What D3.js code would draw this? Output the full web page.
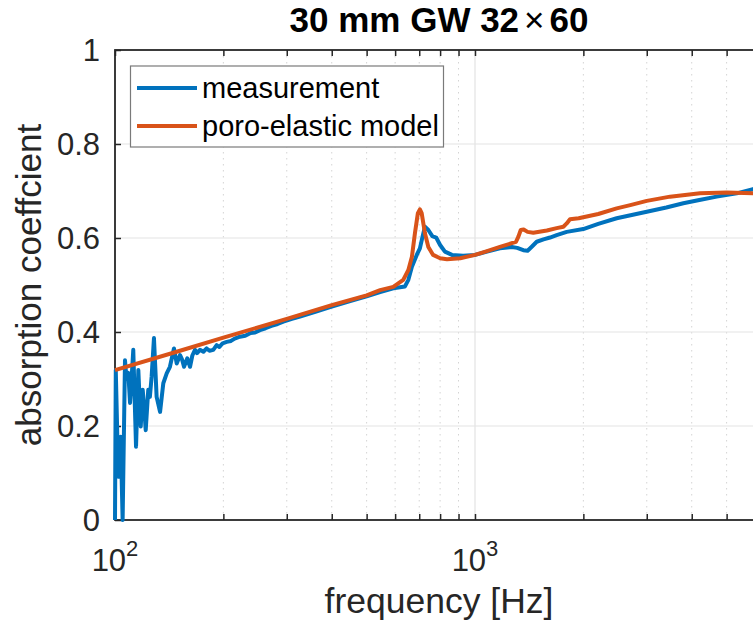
<!DOCTYPE html>
<html><head><meta charset="utf-8">
<script src="https://cdn.jsdelivr.net/npm/d3@7"></script>
<style>
body{margin:0;background:#fff}
svg{display:block}
text{font-family:"Liberation Sans",Arial,Helvetica,sans-serif;fill:#262626}
</style>
</head><body>
<svg id="chart" width="753" height="624"></svg>
<script>
// ---------- data ----------
const titleParts = ["30 mm GW 32", "×", "60"];
const xLabel = "frequency [Hz]";
const yLabel = "absorption coeffcient";
const seriesNames = ["measurement", "poro-elastic model"];
const seriesColors = ["#0072BD", "#D95319"];

const measFreq = [100,100.5,102.1,103.7,105.0,106.6,107.6,108.9,110.1,111.2,112.4,114.4,116.1,117.9,119.4,120.5,121.7,123.7,125.0,126.4,128.3,129.3,130.5,133.4,136.2,139.2,142.1,145.8,148.4,151.6,153.5,155.5,158.8,161.6,164,166.8,169,172.2,176,179.7,183,187.5,191.6,195,199,204.3,210,215,222.4,230,238,245,252.8,262,272,283,293.5,310,326.5,360,400,450,500,545,593,639,653,668,689,703,715,726,742,761,780,800,825,863,927,1000,1080,1173,1265,1310,1362,1400,1440,1484,1550,1616,1686,1798,1999,2200,2475,3000,3400,3790,4200,4693,5333,5918,6310];
const measVal = [0.0,0.319,0.092,0.177,0.0,0.340,0.300,0.313,0.249,0.300,0.362,0.156,0.319,0.199,0.277,0.240,0.191,0.277,0.262,0.305,0.387,0.330,0.262,0.230,0.291,0.312,0.326,0.365,0.333,0.351,0.342,0.326,0.344,0.326,0.350,0.362,0.355,0.362,0.358,0.365,0.360,0.362,0.372,0.368,0.376,0.379,0.381,0.386,0.390,0.392,0.398,0.399,0.404,0.408,0.413,0.417,0.422,0.428,0.433,0.443,0.454,0.466,0.476,0.485,0.493,0.497,0.511,0.539,0.564,0.578,0.603,0.624,0.617,0.604,0.601,0.585,0.571,0.564,0.562,0.564,0.571,0.578,0.581,0.579,0.574,0.573,0.582,0.592,0.597,0.601,0.606,0.613,0.619,0.630,0.642,0.656,0.665,0.674,0.681,0.688,0.695,0.704,0.708];

const modelFreq = [100,150,200,300,400,500,545,593,632,653,668,681,694,703,711,726,742,765,800,836,910,1000,1080,1173,1265,1300,1320,1340,1365,1400,1452,1584,1686,1760,1798,1836,1940,2200,2475,2700,3000,3482,4217,5003,5918,6310];
const modelVal = [0.319,0.359,0.388,0.428,0.457,0.478,0.489,0.496,0.511,0.532,0.560,0.610,0.653,0.661,0.653,0.610,0.581,0.564,0.557,0.555,0.557,0.564,0.572,0.581,0.589,0.592,0.603,0.617,0.618,0.613,0.611,0.616,0.621,0.624,0.631,0.640,0.642,0.651,0.663,0.670,0.679,0.688,0.695,0.697,0.695,0.694];

const xDomain = [100, 6310];
const yDomain = [0, 1];
const xMajorTicks = [100, 1000];
const xMajorBase = ["10", "10"];
const xMajorExp = ["2", "3"];
const xMinorTicks = [200,300,400,500,600,700,800,900,2000,3000,4000,5000,6000];
const yTicks = [0, 0.2, 0.4, 0.6, 0.8, 1];
const yTickLabels = ["0", "0.2", "0.4", "0.6", "0.8", "1"];

// ---------- layout ----------
const P = {left: 115, top: 50, right: 763, bottom: 520};
const svg = d3.select("#chart");
const x = d3.scaleLog().domain(xDomain).range([P.left, P.right]);
const y = d3.scaleLinear().domain(yDomain).range([P.bottom, P.top]);
const axisColor = "#262626";

// grid
const grid = svg.append("g");
grid.selectAll(".xminor").data(xMinorTicks).join("line")
  .attr("x1", d => x(d)).attr("x2", d => x(d))
  .attr("y1", P.top).attr("y2", P.bottom)
  .attr("stroke", "#d4d4d4").attr("stroke-width", 1).attr("stroke-dasharray", "1.5,4.5");
grid.selectAll(".xmajor").data(xMajorTicks.slice(1)).join("line")
  .attr("x1", d => x(d)).attr("x2", d => x(d))
  .attr("y1", P.top).attr("y2", P.bottom)
  .attr("stroke", "#e3e3e3").attr("stroke-width", 1.2);
grid.selectAll(".ymajor").data(yTicks.slice(1, -1)).join("line")
  .attr("x1", P.left).attr("x2", P.right)
  .attr("y1", d => y(d)).attr("y2", d => y(d))
  .attr("stroke", "#e3e3e3").attr("stroke-width", 1.2);

// axes (ticks inward)
const allXTicks = xMajorTicks.concat(xMinorTicks);
const tickLen = 6;
const axB = svg.append("g").attr("transform", `translate(0,${P.bottom})`)
  .call(d3.axisBottom(x).tickValues(allXTicks).tickSize(-tickLen).tickFormat(""));
const axT = svg.append("g").attr("transform", `translate(0,${P.top})`)
  .call(d3.axisTop(x).tickValues(allXTicks).tickSize(-tickLen).tickFormat(""));
const axL = svg.append("g").attr("transform", `translate(${P.left},0)`)
  .call(d3.axisLeft(y).tickValues(yTicks).tickSize(-tickLen).tickFormat(""));
const axR = svg.append("g").attr("transform", `translate(${P.right},0)`)
  .call(d3.axisRight(y).tickValues(yTicks).tickSize(-tickLen).tickFormat(""));
[axB, axT, axL, axR].forEach(g => {
  g.select(".domain").remove();
  g.selectAll(".tick line").attr("stroke", axisColor).attr("stroke-width", 1.5);
});
svg.append("rect").attr("x", P.left).attr("y", P.top)
  .attr("width", P.right - P.left).attr("height", P.bottom - P.top)
  .attr("fill", "none").attr("stroke", axisColor).attr("stroke-width", 1.8);

// tick labels
svg.append("g").selectAll("text").data(yTicks).join("text")
  .attr("x", P.left - 15).attr("y", d => y(d) + 11)
  .attr("text-anchor", "end").attr("font-size", 31)
  .text((d, i) => yTickLabels[i]);
const xl = svg.append("g").selectAll("text").data(xMajorTicks).join("text")
  .attr("x", d => x(d)).attr("y", 571)
  .attr("text-anchor", "middle").attr("font-size", 31);
xl.append("tspan").text((d, i) => xMajorBase[i]);
xl.append("tspan").attr("font-size", 22).attr("dy", -15).text((d, i) => xMajorExp[i]);

// axis labels
svg.append("text").attr("x", (P.left + P.right) / 2).attr("y", 613)
  .attr("text-anchor", "middle").attr("font-size", 35.5).text(xLabel);
svg.append("text").attr("transform", `translate(41,${(P.top + P.bottom) / 2}) rotate(-90)`)
  .attr("text-anchor", "middle").attr("font-size", 35).text(yLabel);

// title
const t = svg.append("text").attr("x", (P.left + P.right) / 2).attr("y", 32)
  .attr("text-anchor", "middle").attr("font-size", 35).attr("font-weight", "bold")
  .style("fill", "#000");
t.append("tspan").text(titleParts[0]);
t.append("tspan").attr("font-weight", "normal").attr("dx", 5).text(titleParts[1]);
t.append("tspan").attr("dx", 5).text(titleParts[2]);

// lines
const line = d3.line().x(d => x(d[0])).y(d => y(d[1]));
const measData = measFreq.map((f, i) => [f, measVal[i]]);
const modelData = modelFreq.map((f, i) => [f, modelVal[i]]);
[measData, modelData].forEach((data, i) => {
  svg.append("path").datum(data)
    .attr("d", line).attr("fill", "none")
    .attr("stroke", seriesColors[i]).attr("stroke-width", 4)
    .attr("stroke-linejoin", "round").attr("stroke-linecap", "butt");
});

// legend
const lg = svg.append("g");
lg.append("rect").attr("x", 130.5).attr("y", 66).attr("width", 313).attr("height", 81)
  .attr("fill", "#fff").attr("stroke", "#7a7a7a").attr("stroke-width", 1.2);
const rowsY = [88, 126];
seriesNames.forEach((name, i) => {
  lg.append("line").attr("x1", 137).attr("x2", 197)
    .attr("y1", rowsY[i]).attr("y2", rowsY[i])
    .attr("stroke", seriesColors[i]).attr("stroke-width", 4);
  lg.append("text").attr("x", 202).attr("y", rowsY[i] + 10)
    .attr("font-size", 29).style("fill", "#000").text(name);
});
</script>
</body></html>
